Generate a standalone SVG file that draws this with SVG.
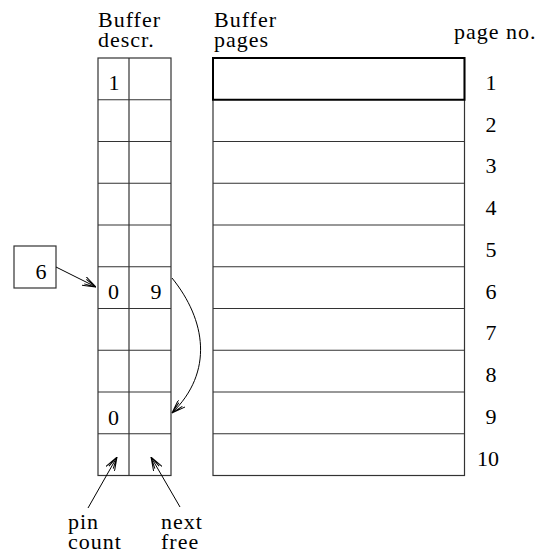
<svg xmlns="http://www.w3.org/2000/svg" width="542" height="556" viewBox="0 0 542 556">
  <style>
    text { font-family: "Liberation Serif", "DejaVu Serif", "Times New Roman", serif; font-size: 22px; fill: #000; }
    .word { letter-spacing: 1px; }
    .mid { text-anchor: middle; }
    .grid { fill: none; stroke: #333; stroke-width: 1.2; }
    .conn { fill: none; stroke: #000; stroke-width: 1; }
  </style>
  <defs>
    <marker id="vhead" viewBox="0 0 14 10" refX="14" refY="5" markerWidth="14" markerHeight="10" markerUnits="userSpaceOnUse" orient="auto">
      <path d="M0,0 L14,5 L0,10 M2,2.5 L14,5 L2,7.5" fill="none" stroke="#000" stroke-width="1"/>
    </marker>
  </defs>

  <!-- column headings -->
  <g id="headings">
    <text class="word" x="98" y="27">Buffer</text>
    <text class="word" x="98" y="47">descr.</text>
    <text class="word" x="214" y="27">Buffer</text>
    <text class="word" x="214" y="47">pages</text>
    <text class="word" x="454" y="38.5">page no.</text>
  </g>

  <!-- buffer descriptor table: pin count | next free -->
  <g id="descriptors">
    <rect class="grid" x="98" y="58" width="73" height="417.5"/>
    <line class="grid" x1="129" y1="58" x2="129" y2="475.5"/>
    <path class="grid" d="M98,99.75H171 M98,141.5H171 M98,183.25H171 M98,225H171 M98,266.75H171 M98,308.5H171 M98,350.25H171 M98,392H171 M98,433.75H171"/>
    <text class="mid" x="114" y="90">1</text>
    <text class="mid" x="113.5" y="299">0</text>
    <text class="mid" x="156" y="299">9</text>
    <text class="mid" x="113.5" y="424.5">0</text>
  </g>

  <!-- buffer pages -->
  <g id="pages">
    <rect class="grid" x="213" y="58" width="251.5" height="417.5"/>
    <path class="grid" d="M213,141.5H464.5 M213,183.25H464.5 M213,225H464.5 M213,266.75H464.5 M213,308.5H464.5 M213,350.25H464.5 M213,392H464.5 M213,433.75H464.5"/>
    <rect x="213" y="58" width="251.5" height="41.75" fill="none" stroke="#000" stroke-width="2"/>
  </g>

  <!-- page numbers -->
  <g id="page-numbers">
    <text class="mid" x="491" y="90">1</text>
    <text class="mid" x="491" y="131.5">2</text>
    <text class="mid" x="491" y="173">3</text>
    <text class="mid" x="491" y="215">4</text>
    <text class="mid" x="491" y="256.5">5</text>
    <text class="mid" x="491" y="298.5">6</text>
    <text class="mid" x="491" y="340">7</text>
    <text class="mid" x="491" y="382">8</text>
    <text class="mid" x="491" y="424">9</text>
    <text class="mid" x="488" y="465.5">10</text>
  </g>

  <!-- hash lookup box -->
  <g id="lookup">
    <rect x="14" y="246" width="42" height="42" fill="none" stroke="#333" stroke-width="1.2"/>
    <text class="mid" x="41" y="279">6</text>
  </g>

  <!-- captions under the table -->
  <g id="captions">
    <text class="word" x="68" y="529">pin</text>
    <text class="word" x="68" y="549">count</text>
    <text class="word" x="161" y="529">next</text>
    <text class="word" x="161" y="549">free</text>
  </g>

  <!-- connectors -->
  <g id="connectors">
    <line class="conn" x1="56" y1="267" x2="96" y2="287" marker-end="url(#vhead)"/>
    <path class="conn" d="M172,278 C206,320 214,372 172,413" marker-end="url(#vhead)"/>
    <line class="conn" x1="88" y1="508" x2="117" y2="457" marker-end="url(#vhead)"/>
    <line class="conn" x1="180" y1="507" x2="151" y2="457" marker-end="url(#vhead)"/>
  </g>
</svg>
